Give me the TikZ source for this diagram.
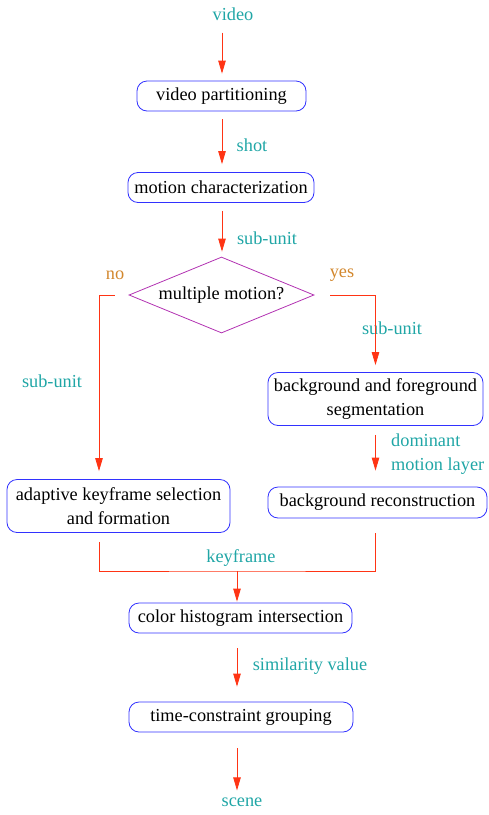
\documentclass[tikz,border=0pt]{standalone}
\usepackage{fontspec}
\setmainfont{Liberation Serif}
\usetikzlibrary{arrows.meta,shapes.geometric}
\definecolor{lblc}{RGB}{32,166,166}
\definecolor{yesno}{RGB}{210,135,45}
\definecolor{arrc}{RGB}{255,52,20}
\definecolor{boxc}{RGB}{50,50,255}
\definecolor{diac}{RGB}{178,50,178}
\tikzset{
  every node/.style={font=\fontsize{18.3}{24}\selectfont},
  procbox/.style={draw=boxc, line width=0.8pt, rounded corners=10pt, inner sep=0pt, align=center},
  decbox/.style={draw=diac, line width=0.8pt, diamond, aspect=2.43, inner sep=0pt, minimum width=185pt, minimum height=76pt},
  lbl/.style={text=lblc, inner sep=0pt},
  ynlbl/.style={text=yesno, inner sep=0pt},
  flow/.style={draw=arrc, line width=0.8pt},
  arr/.style={flow, -{Triangle[length=13pt,width=7.5pt]}},
}
\begin{document}
\begin{tikzpicture}[x=1pt,y=-1pt]
\useasboundingbox (0,0) rectangle (488,815);
% nodes
\node[lbl] (vid) at (233,14) {video};
\node[procbox, minimum width=169pt, minimum height=30pt] (vp) at (221.5,96) {video partitioning};
\node[procbox, minimum width=186pt, minimum height=30pt] (mc) at (221,187.5) {motion characterization};
\node[decbox] (dia) at (221.5,295) {multiple motion?};
\node[procbox, minimum width=215pt, minimum height=53pt] (seg) at (375.5,399) {background and foreground\\segmentation};
\node[procbox, minimum width=219pt, minimum height=31pt] (bgr) at (377.5,502.5) {background reconstruction};
\node[procbox, minimum width=223pt, minimum height=53pt] (adapt) at (118.5,506) {adaptive keyframe selection\\and formation};
\node[procbox, minimum width=223pt, minimum height=30pt] (chi) at (240.5,618) {color histogram intersection};
\node[procbox, minimum width=224pt, minimum height=30pt] (tcg) at (241,717) {time-constraint grouping};
\node[lbl] (scene) at (242,802) {scene};
% labels
\node[lbl] (lshot) at (252,145) {shot};
\node[lbl] (lsub1) at (267,238) {sub-unit};
\node[ynlbl] (lno) at (115,275) {no};
\node[ynlbl] (lyes) at (342,275) {yes};
\node[lbl] (lsub2) at (392,328) {sub-unit};
\node[lbl] (lsub3) at (52,381) {sub-unit};
\node[lbl, align=left, anchor=west] (ldom) at (391,454.5) {dominant\\motion layer};
\node[lbl] (lkey) at (241,558) {keyframe};
\node[lbl] (lsim) at (310,666) {similarity value};
% helper coordinates
\coordinate (lx) at (99,0);
\coordinate (ax) at (222,0);
\coordinate (m) at (237,571);
% connectors
\draw[arr] (vid.south -| ax) ++(0,12) -- ([yshift=7pt]vp.north -| ax);
\draw[arr] ([yshift=-8pt]vp.south -| ax) -- ([yshift=8pt]mc.north -| ax);
\draw[arr] ([yshift=-8pt]mc.south -| ax) -- ([yshift=5pt]dia.north -| ax);
\draw[arr] ([xshift=-14pt]dia.west) -| ([yshift=8pt]adapt.north -| lx);
\draw[arr] ([xshift=16pt]dia.east) -| ([yshift=7pt]seg.north);
\draw[arr] ([yshift=-9pt]seg.south) -- ([yshift=16pt]seg.south |- bgr.north);
\draw[flow] ([yshift=-9pt]adapt.south -| lx) |- (m) -| ([yshift=-15pt]bgr.south -| seg.south);
\draw[arr] (m) -- ([yshift=1pt]chi.north -| m);
\draw[arr] ([yshift=-15pt]chi.south -| m) -- ([yshift=15pt]tcg.north -| m);
\draw[arr] ([yshift=-16pt]tcg.south -| m) -- ([yshift=7pt]scene.north -| m);
\end{tikzpicture}
\end{document}
